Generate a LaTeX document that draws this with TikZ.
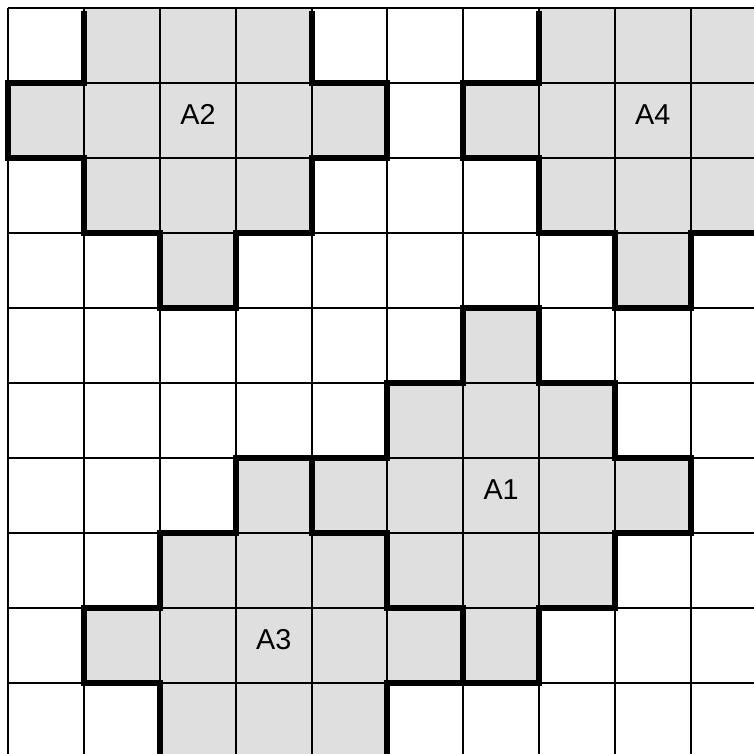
\documentclass[tikz,border=0pt]{standalone}
\usepackage{fontspec}
\setmainfont{Liberation Sans}
\usepackage{tikz}
\definecolor{cShade}{HTML}{DFDFDF}
\tikzset{
  cellfill/.style={fill=cShade},
  gridline/.style={line width=0.7pt, black},
  blobline/.style={draw=black, line width=2.2pt, line cap=rect},
  lbl/.style={font=\fontsize{10.8}{12}\selectfont, inner sep=0pt},
}
% diamond of radius 2 round the centre cell (col #2, row #3)
\newcommand{\blob}[3][]{\path[#1] (#2,#3-2) -- ++(1,0) -- ++(0,1) -- ++(1,0) -- ++(0,1) -- ++(1,0) -- ++(0,1)
  -- ++(-1,0) -- ++(0,1) -- ++(-1,0) -- ++(0,1) -- ++(-1,0) -- ++(0,-1) -- ++(-1,0) -- ++(0,-1)
  -- ++(-1,0) -- ++(0,-1) -- ++(1,0) -- ++(0,-1) -- ++(1,0) -- cycle;}

\begin{document}
\begin{tikzpicture}[x={(1cm,0)}, y={(0,-0.9894cm)}]
\useasboundingbox (-0.111,-0.112) rectangle (9.836,9.941);
\begin{scope}
  \clip (-0.3,0) rectangle (10.5,10.5);
  \foreach \c/\r in {6/6,2/1,3/8,8/1} {\blob[cellfill]{\c}{\r}}
\end{scope}
\foreach \i in {0,...,10} {
  \draw[gridline] (\i,0) -- (\i,10);
  \draw[gridline] (0,\i) -- (10,\i);
}
\begin{scope}
  \clip (-0.3,0.04) rectangle (10.5,10.5);
  \foreach \c/\r in {6/6,2/1,3/8,8/1} {\blob[blobline]{\c}{\r}}
\end{scope}
\node[lbl] (lblA1) at (6.5,6.42) {A1};
\node[lbl] (lblA2) at (2.5,1.42) {A2};
\node[lbl] (lblA3) at (3.5,8.42) {A3};
\node[lbl] (lblA4) at (8.5,1.42) {A4};
\end{tikzpicture}
\end{document}
